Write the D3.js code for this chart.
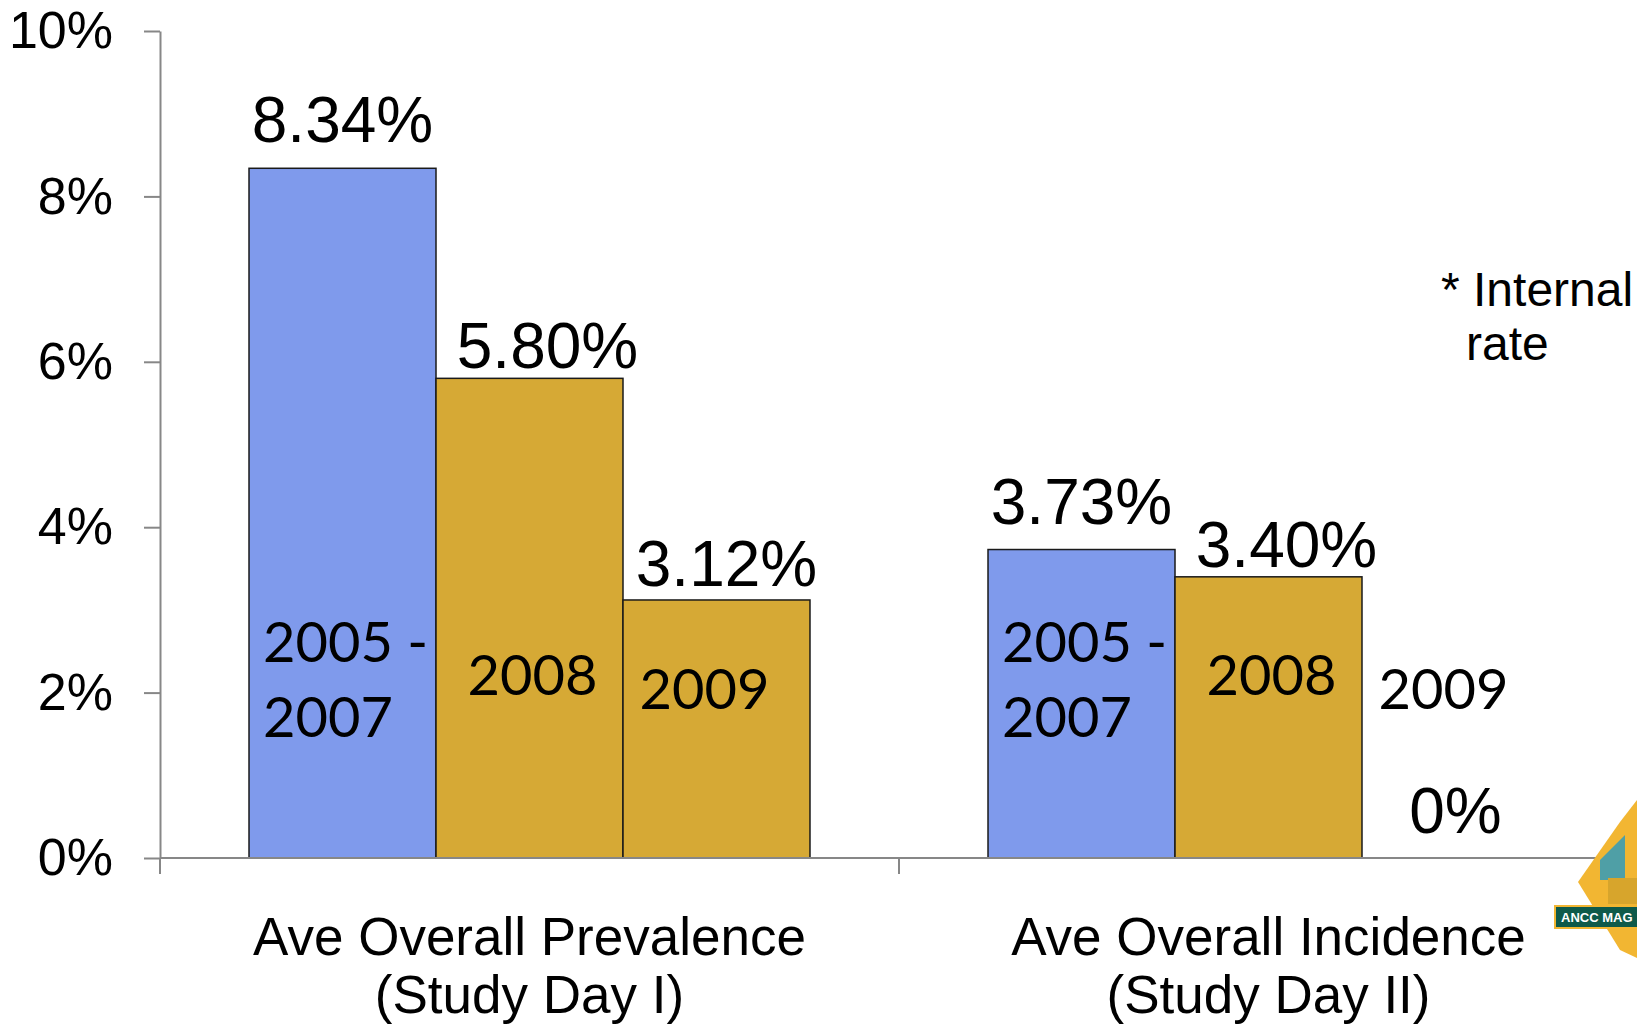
<!DOCTYPE html>
<html>
<head>
<meta charset="utf-8">
<script src="https://cdn.jsdelivr.net/npm/d3@7"></script>
<style>
  html, body { margin: 0; padding: 0; background: #fff; overflow: hidden; }
  svg { display: block; }
</style>
</head>
<body>
<svg id="chart"></svg>
<script>
// chart data
const categories = ["Ave Overall Prevalence|(Study Day I)", "Ave Overall Incidence|(Study Day II)"];
const seriesNames = ["2005 - 2007", "2008", "2009"];
const prevalence = [0.0834, 0.0580, 0.0312];
const incidence = [0.0373, 0.0340, 0.0];
const valueLabels = [["8.34%", "5.80%", "3.12%"], ["3.73%", "3.40%", "0%"]];
const yTicks = [0, 0.02, 0.04, 0.06, 0.08, 0.10];

const width = 1637;
const height = 1025;
const margin = { top: 31, right: -1, bottom: 167, left: 160 };

const svg = d3.select("#chart")
  .attr("width", width)
  .attr("height", height);

const rows = [prevalence, incidence];
const seriesColors = ["#7f9aec", "#d6a935", "#d6a935"];

// scales
const x0 = d3.scaleBand()
  .domain(categories)
  .range([margin.left, width - margin.right]);

const x1 = d3.scaleBand()
  .domain(seriesNames)
  .range([0, x0.bandwidth()])
  .paddingInner(0)
  .paddingOuter(0.476);

const y = d3.scaleLinear()
  .domain([0, 0.10])
  .range([height - margin.bottom, margin.top]);

const axisColor = "#878787";

// bars
categories.forEach((cat, ci) => {
  const g = svg.append("g").attr("transform", `translate(${x0(cat)},0)`);
  g.selectAll("rect")
    .data(rows[ci].map((v, si) => ({ v, s: seriesNames[si], si })).filter(d => d.v > 0))
    .enter()
    .append("rect")
    .attr("x", d => x1(d.s))
    .attr("y", d => y(d.v))
    .attr("width", x1.bandwidth())
    .attr("height", d => y(0) - y(d.v))
    .attr("fill", d => seriesColors[d.si])
    .attr("stroke", "#1a1a1a")
    .attr("stroke-width", 1.5);
});

// y axis
const yAxis = d3.axisLeft(y)
  .tickValues(yTicks)
  .tickFormat(d3.format(".0%"))
  .tickSize(16)
  .tickSizeOuter(0)
  .tickPadding(31);

const yg = svg.append("g")
  .attr("transform", `translate(${margin.left},0)`)
  .call(yAxis);
yg.select(".domain").attr("stroke", axisColor).attr("stroke-width", 2);
yg.selectAll(".tick line").attr("stroke", axisColor).attr("stroke-width", 2);
yg.selectAll(".tick text")
  .attr("fill", "#000")
  .style("font-family", "'Liberation Sans', Arial, sans-serif")
  .style("font-size", "52px");

// x axis: baseline and category boundary ticks
svg.append("line")
  .attr("x1", margin.left).attr("x2", width)
  .attr("y1", y(0)).attr("y2", y(0))
  .attr("stroke", axisColor).attr("stroke-width", 2);

const boundaries = categories.map(c => x0(c)).concat([x0.range()[1]]);
svg.selectAll(".xtick")
  .data(boundaries)
  .enter()
  .append("line")
  .attr("class", "xtick")
  .attr("x1", d => d).attr("x2", d => d)
  .attr("y1", y(0)).attr("y2", y(0) + 16)
  .attr("stroke", axisColor).attr("stroke-width", 2);

// category labels
categories.forEach(cat => {
  const lines = cat.split("|");
  svg.append("text")
    .attr("x", x0(cat) + x0.bandwidth() / 2)
    .attr("text-anchor", "middle")
    .style("font-family", "'Liberation Sans', Arial, sans-serif")
    .style("font-size", "53px")
    .attr("fill", "#000")
    .selectAll("tspan")
    .data(lines)
    .enter()
    .append("tspan")
    .attr("x", x0(cat) + x0.bandwidth() / 2)
    .attr("y", (d, i) => 955 + i * 58)
    .text(d => d);
});

// value labels above bars
const labelGap = [26, 10, 14];
const labelDx = [0, 18, 10];
categories.forEach((cat, ci) => {
  rows[ci].forEach((v, si) => {
    const cx = x0(cat) + x1(seriesNames[si]) + x1.bandwidth() / 2;
    svg.append("text")
      .attr("x", cx + (v > 0 ? labelDx[si] : 0))
      .attr("y", y(v) - (v > 0 ? labelGap[si] : 25))
      .attr("text-anchor", "middle")
      .style("font-family", "'Liberation Sans', Arial, sans-serif")
      .style("font-size", "64px")
      .attr("fill", "#000")
      .text(valueLabels[ci][si]);
  });
});

// series names inside the bars
const innerFont = "Lato, 'Open Sans', sans-serif";
categories.forEach(cat => {
  const bx = s => x0(cat) + x1(s);
  const bw = x1.bandwidth();
  // first series on two lines, left aligned
  const parts = ["2005 -", "2007"];
  parts.forEach((t, i) => {
    svg.append("text")
      .attr("x", bx(seriesNames[0]) + 14)
      .attr("y", y(0) - 196 + i * 75)
      .style("font-family", innerFont)
      .style("font-size", "56px")
      .attr("fill", "#000")
      .text(t);
  });
  svg.append("text")
    .attr("x", bx(seriesNames[1]) + bw / 2 + 3)
    .attr("y", y(0) - 163)
    .attr("text-anchor", "middle")
    .style("font-family", innerFont)
    .style("font-size", "56px")
    .attr("fill", "#000")
    .text(seriesNames[1]);
  svg.append("text")
    .attr("x", bx(seriesNames[2]) + bw / 2 - 12)
    .attr("y", y(0) - 149)
    .attr("text-anchor", "middle")
    .style("font-family", innerFont)
    .style("font-size", "56px")
    .attr("fill", "#000")
    .text(seriesNames[2]);
});

// side note
const note = svg.append("text")
  .style("font-family", "'Liberation Sans', Arial, sans-serif")
  .style("font-size", "48px")
  .attr("fill", "#000");
note.append("tspan").attr("x", 1441).attr("y", 306).text("* Internal");
note.append("tspan").attr("x", 1466).attr("y", 360).text("rate");

// logo fragment in the corner
const logo = svg.append("g");
logo.append("polygon")
  .attr("points", "1578,882 1620,822 1637,800 1637,958 1620,950")
  .attr("fill", "#f2b632");
logo.append("polygon")
  .attr("points", "1600,860 1625,835 1625,880 1600,880")
  .attr("fill", "#4f9fa6");
logo.append("rect")
  .attr("x", 1608).attr("y", 878).attr("width", 30).attr("height", 26)
  .attr("fill", "#d7a52c");
logo.append("rect")
  .attr("x", 1555).attr("y", 906).attr("width", 84).attr("height", 22)
  .attr("fill", "#0e5a4a")
  .attr("stroke", "#f2b632").attr("stroke-width", 2);
logo.append("text")
  .attr("x", 1561).attr("y", 922)
  .style("font-family", "'Liberation Sans', Arial, sans-serif")
  .style("font-size", "13px")
  .style("font-weight", "bold")
  .attr("fill", "#fff")
  .text("ANCC MAG");
</script>
</body>
</html>
